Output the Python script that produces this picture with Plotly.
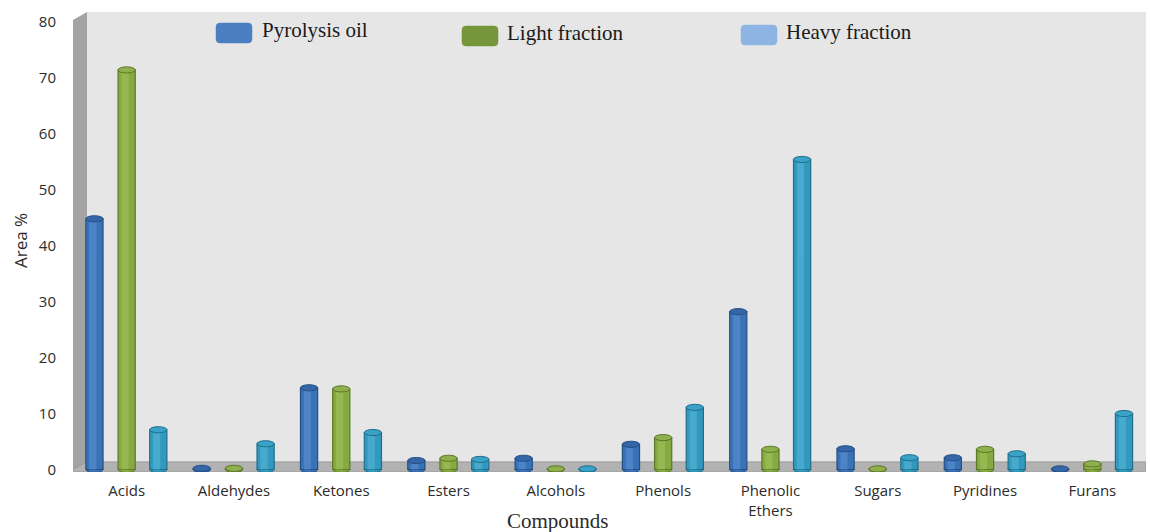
import plotly.graph_objects as go

# Compound classes and area % per fraction
categories = ["Acids", "Aldehydes", "Ketones", "Esters", "Alcohols", "Phenols",
              "Phenolic<br>Ethers", "Sugars", "Pyridines", "Furans"]
pyrolysis_oil = [44.8, 0.2, 14.6, 1.6, 2.0, 4.5, 28.2, 3.7, 2.1, 0.1]
light_fraction = [71.4, 0.2, 14.4, 2.0, 0.1, 5.7, 3.6, 0.1, 3.6, 1.0]
heavy_fraction = [7.1, 4.6, 6.6, 1.8, 0.1, 11.1, 55.4, 2.1, 2.8, 10.0]
series_names = ["Pyrolysis oil", "Light fraction", "Heavy fraction"]
y_ticks = [0, 10, 20, 30, 40, 50, 60, 70, 80]

series = [pyrolysis_oil, light_fraction, heavy_fraction]
# body, highlight, edge, top colours for the cylinders
styles = [
    dict(body="#3a72b8", light="#5a90d2", edge="#244f85", top="#3566a8"),
    dict(body="#86a941", light="#a2c25a", edge="#5b7826", top="#8fb04c"),
    dict(body="#3299be", light="#56b6d6", edge="#1f6e8c", top="#3aa2c6"),
]
legend_swatch = ["#4a7fc1", "#77953a", "#8db4e3"]

offsets = [-0.3, 0.0, 0.295]
bar_w = 0.16
cap_h = 0.55

W, H = 1150, 532
ML, MR, MT, MB = 73, 4, 12, 60
XR = [-0.5, 9.5]
YR = [-0.45, 81.75]

fig = go.Figure()
shapes = []

# chart walls: side wall, back wall, floor
side_dx = 14 / ((W - ML - MR) / (XR[1] - XR[0]))
shapes.append(dict(type="rect", xref="x", yref="y", x0=XR[0] + side_dx, x1=XR[1],
                   y0=1.35, y1=YR[1], fillcolor="#e6e6e6", line_width=0, layer="below"))
shapes.append(dict(type="path", xref="x", yref="y",
                   path=f"M {XR[0]},0 L {XR[0]},80.3 L {XR[0] + side_dx},{YR[1]} "
                        f"L {XR[0] + side_dx},1.35 Z",
                   fillcolor="#a3a3a3", line_width=0, layer="below"))
shapes.append(dict(type="path", xref="x", yref="y",
                   path=f"M {XR[0]},{YR[0]} L {XR[1]},{YR[0]} L {XR[1]},1.35 "
                        f"L {XR[0] + side_dx},1.35 L {XR[0]},0 Z",
                   fillcolor="#b2b2b2", line=dict(color="#9a9a9a", width=1), layer="below"))

for k, (vals, st, name) in enumerate(zip(series, styles, series_names)):
    xs = [i + offsets[k] for i in range(len(categories))]
    # rounded base of each cylinder
    for x, v in zip(xs, vals):
        shapes.append(dict(type="circle", xref="x", yref="y",
                           x0=x - bar_w / 2, x1=x + bar_w / 2, y0=-cap_h, y1=cap_h,
                           fillcolor=st["body"], line=dict(color=st["edge"], width=1),
                           layer="below"))
    fig.add_trace(go.Bar(x=xs, y=vals, width=bar_w, name=name,
                         marker=dict(color=st["body"], line=dict(color=st["edge"], width=1.2)),
                         showlegend=False))
    fig.add_trace(go.Bar(x=[x - 0.015 for x in xs], y=vals, width=bar_w * 0.42,
                         marker=dict(color=st["light"], line_width=0), opacity=0.6,
                         showlegend=False, hoverinfo="skip"))
    # elliptical top of each cylinder
    for x, v in zip(xs, vals):
        shapes.append(dict(type="circle", xref="x", yref="y",
                           x0=x - bar_w / 2, x1=x + bar_w / 2, y0=v - cap_h, y1=v + cap_h,
                           fillcolor=st["top"], line=dict(color=st["edge"], width=1),
                           layer="above"))

# legend: rounded swatches with serif labels
def rounded_rect(w, h, r):
    a, b = w / 2, h / 2
    return (f"M {-a + r},{-b} L {a - r},{-b} Q {a},{-b} {a},{-b + r} "
            f"L {a},{b - r} Q {a},{b} {a - r},{b} L {-a + r},{b} "
            f"Q {-a},{b} {-a},{b - r} L {-a},{-b + r} Q {-a},{-b} {-a + r},{-b} Z")

pw, ph = W - ML - MR, H - MT - MB
def px_to_paper(px, py):
    return (px - ML) / pw, (H - MB - py) / ph

legend_pos = [(234, 33, 260), (480, 36, 505), (759, 35, 784)]
annotations = []
for (sx, sy, tx), col, name in zip(legend_pos, legend_swatch, series_names):
    ax, ay = px_to_paper(sx, sy)
    shapes.append(dict(type="path", xref="paper", yref="paper", xsizemode="pixel",
                       ysizemode="pixel", xanchor=ax, yanchor=ay,
                       path=rounded_rect(36, 20, 4), fillcolor=col,
                       line=dict(color=col, width=0.5), layer="above"))
    tx_p, ty_p = px_to_paper(tx, sy - 3)
    annotations.append(dict(text=name, xref="paper", yref="paper", x=tx_p, y=ty_p,
                            xanchor="left", yanchor="middle", showarrow=False,
                            font=dict(family="Liberation Serif", size=21, color="#1a1a1a")))

# axis titles
xt, yt = px_to_paper(558, 521)
annotations.append(dict(text="Compounds", xref="paper", yref="paper", x=xt, y=yt,
                        xanchor="center", yanchor="middle", showarrow=False,
                        font=dict(family="Liberation Serif", size=21, color="#2b2b2b")))
at, bt = px_to_paper(20, 241)
annotations.append(dict(text="Area %", xref="paper", yref="paper", x=at, y=bt,
                        xanchor="center", yanchor="middle", showarrow=False, textangle=-90,
                        font=dict(family="Open Sans", size=17, color="#2b2b2b")))

fig.update_layout(
    width=W, height=H,
    margin=dict(l=ML, r=MR, t=MT, b=MB),
    paper_bgcolor="white", plot_bgcolor="white",
    barmode="overlay",
    shapes=shapes, annotations=annotations,
    xaxis=dict(range=XR, tickmode="array", tickvals=list(range(len(categories))),
               ticktext=categories, showgrid=False, zeroline=False, showline=False,
               ticks="", ticklabelstandoff=8,
               tickfont=dict(family="Open Sans", size=15, color="#2b2b2b")),
    yaxis=dict(range=YR, tickmode="array", tickvals=y_ticks, showgrid=False,
               zeroline=False, showline=False, ticks="", ticklabelstandoff=16,
               tickfont=dict(family="Open Sans", size=15, color="#2b2b2b")),
)

fig.write_html("out.html")
